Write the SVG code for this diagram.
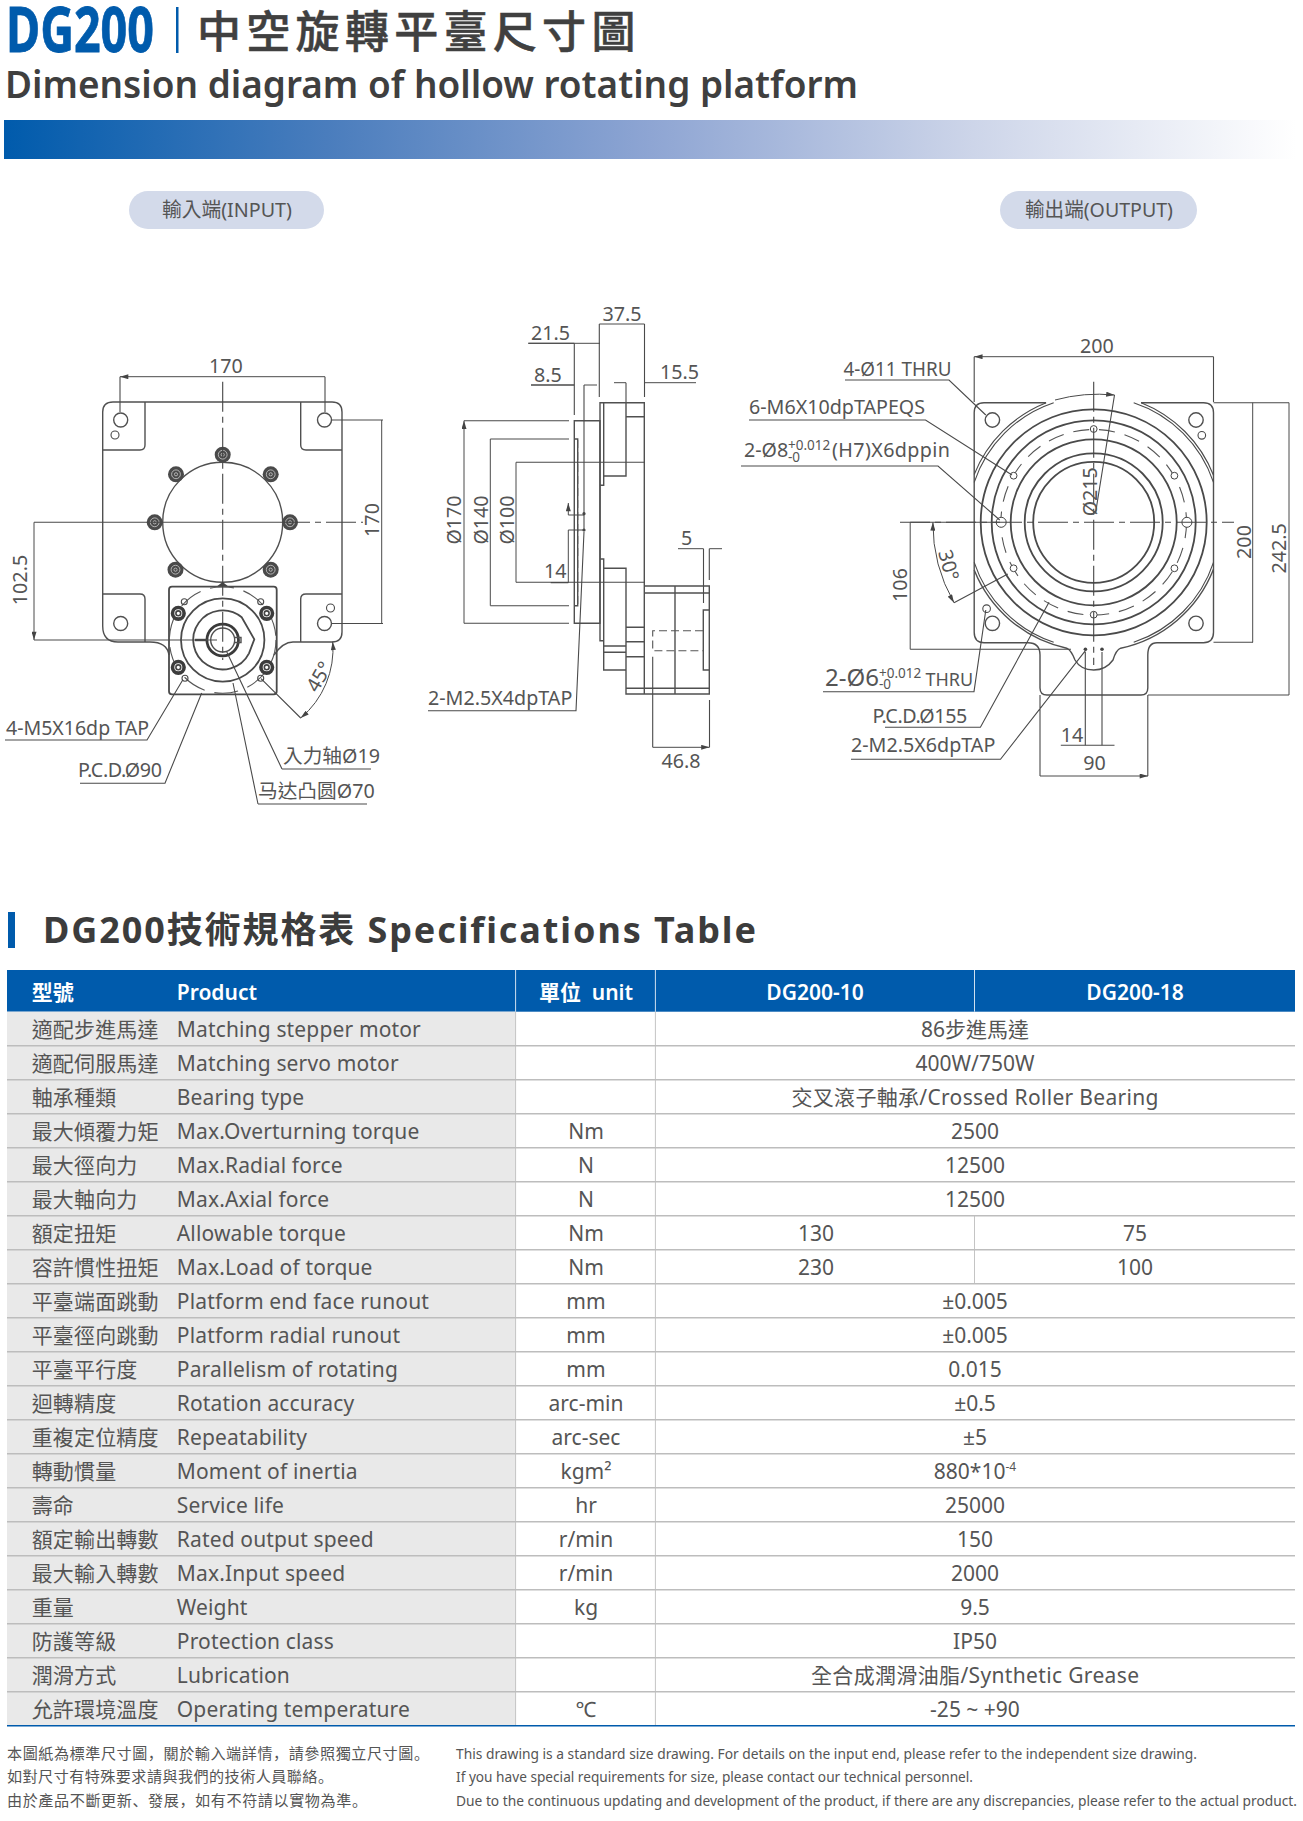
<svg xmlns="http://www.w3.org/2000/svg" width="1303" height="1821" viewBox="0 0 1303 1821">
<style>
text{font-family:"Noto Sans","Noto Sans CJK TC",sans-serif;fill:#4f4f4f}
.d{font-size:19.700px;fill:#555}
.l{fill:none;stroke:#4a4a4a;stroke-width:1.100}
.h{fill:none;stroke:#4a4a4a;stroke-width:1.800}
.m{fill:none;stroke:#505050;stroke-width:1.400}
.cl{fill:none;stroke:#444;stroke-width:1.100;stroke-dasharray:30 5 6 5}
.ds{fill:none;stroke:#555;stroke-width:1.100;stroke-dasharray:8 4}
.dim{fill:none;stroke:#4a4a4a;stroke-width:1;marker-start:url(#ar);marker-end:url(#ar)}
.dim1{fill:none;stroke:#4a4a4a;stroke-width:1;marker-end:url(#ar)}
.t{font-size:21px;fill:#555;letter-spacing:.15px}
.c{font-size:21px;fill:#555;text-anchor:middle}
.w{font-size:21px;fill:#fff;font-weight:600}
.wc{font-size:21px;fill:#fff;font-weight:600;text-anchor:middle}
.f{font-size:14.600px;fill:#555}
.fc{font-size:15.100px;fill:#555;font-family:"Noto Sans CJK SC",sans-serif}
.rl{stroke:#bdbdbd;stroke-width:1.500}
.vl{stroke:#c4c4c4;stroke-width:1}
</style>
<defs>
<marker id="ar" viewBox="0 0 10 6" refX="10" refY="3" markerWidth="10" markerHeight="5" markerUnits="userSpaceOnUse" orient="auto-start-reverse"><path d="M0 0L10 3L0 6Z" fill="#444"/></marker>
<linearGradient id="grad" x1="0" y1="0" x2="1" y2="0"><stop offset="0" stop-color="#005bac"/><stop offset=".25" stop-color="#4a7dbd"/><stop offset=".5" stop-color="#8ea5d3"/><stop offset=".75" stop-color="#cdd5e9"/><stop offset="1" stop-color="#ffffff"/></linearGradient>
<g id="bolt"><circle r="8" fill="#4a4a4a"/><circle r="4.400" fill="none" stroke="#ccc" stroke-width=".8"/><circle r="1.600" fill="none" stroke="#ccc" stroke-width=".8"/></g>
<g id="mbolt"><circle r="5.800" fill="#fff" stroke="#3c3c3c" stroke-width="3.600"/><circle r="2.400" fill="none" stroke="#444" stroke-width="1.600"/></g>
</defs>
<rect width="1303" height="1821" fill="#fff"/>

<g id="header">
<text x="6" y="52" font-size="62" font-weight="700" textLength="148" lengthAdjust="spacingAndGlyphs" stroke="#005bac" stroke-width=".8" style="fill:#005bac">DG200</text>
<rect x="176" y="7" width="2.500" height="46" fill="#005bac"/>
<text x="197" y="48" font-size="44" font-weight="500" letter-spacing="5.300" stroke="#404040" stroke-width=".5" style="fill:#404040;font-family:'Noto Sans CJK TC',sans-serif">中空旋轉平臺尺寸圖</text>
<text x="5" y="98" font-size="38" font-weight="600" textLength="853" lengthAdjust="spacingAndGlyphs" style="fill:#3f3f3f">Dimension diagram of hollow rotating platform</text>
<rect x="4" y="120" width="1292" height="39" fill="url(#grad)"/>
</g>
<g id="pill-input"><rect x="129" y="191" width="195" height="38" rx="19" fill="#d3daea"/><text x="162" y="216.500" font-size="20" textLength="130" lengthAdjust="spacingAndGlyphs" style="fill:#555">輸入端(INPUT)</text></g>
<g id="pill-output"><rect x="1000" y="191" width="197" height="38" rx="19" fill="#d3daea"/><text x="1025" y="216.500" font-size="20" textLength="148" lengthAdjust="spacingAndGlyphs" style="fill:#555">輸出端(OUTPUT)</text></g>

<g id="input-view">
<path class="m" d="M113 402H332Q342 402 342 412V632Q342 642 332 642H293Q283 642 274 655M102.700 412Q102.700 402 113 402M102.700 412V626Q102.700 642 118 642H150Q167 642 169 655"/>
<path class="m" d="M145 402V445Q145 450 140 450H102.700M300.700 402V445Q300.700 450 306 450H342M102.700 594H140Q145 594 145 599V642M342 594H306Q300.700 594 300.700 599V642"/>
<circle class="m" cx="120.700" cy="420" r="7"/><circle class="m" cx="324.500" cy="420" r="7"/><circle class="m" cx="120.700" cy="623.500" r="7"/><circle class="m" cx="324.500" cy="623.500" r="7"/>
<circle class="l" cx="115" cy="435" r="4"/><circle class="l" cx="330.500" cy="608" r="4"/>
<circle class="m" cx="222.700" cy="522.300" r="60"/>
<use href="#bolt" x="222.700" y="454.700"/><use href="#bolt" x="176" y="474.300"/><use href="#bolt" x="270.700" y="474.300"/><use href="#bolt" x="154.700" y="522.300"/><use href="#bolt" x="290" y="522.300"/><use href="#bolt" x="175.500" y="569.700"/><use href="#bolt" x="270.700" y="569.700"/>
<path d="M216 587L222.700 582L229 587Z" fill="#444"/>
<rect class="h" x="169" y="586.700" width="107.700" height="107.600" rx="3"/>
<circle class="ds" cx="222.700" cy="640" r="53.300" style="stroke-dasharray:24 10"/>
<circle class="h" cx="222.700" cy="640" r="41.700"/>
<path class="h" d="M241.700 617.300L254.300 639.300L249 653.300A29.500 29.500 0 1 1 241.700 617.300Z"/>
<circle cx="222.700" cy="640" r="15.800" fill="none" stroke="#3a3a3a" stroke-width="2.800"/><circle class="m" cx="222.700" cy="640" r="12"/>
<path class="m" d="M235 637.500H241V642.500H235"/>
<path stroke="#444" stroke-width="2.400" d="M195 640H208"/>
<use href="#mbolt" x="178.300" y="613.300"/><use href="#mbolt" x="266.700" y="613.300"/><use href="#mbolt" x="178.300" y="667.300"/><use href="#mbolt" x="266.700" y="667.300"/>
<circle class="l" cx="184.300" cy="601.700" r="3"/><circle class="l" cx="260.700" cy="601.700" r="3"/><circle class="l" cx="185" cy="678.300" r="3"/><circle class="l" cx="260.700" cy="678.300" r="3"/>
</g>
<g id="input-dimensions">
<path class="cl" d="M222.700 381.700V660M280 522.300H363"/>
<path class="l" d="M34 522.300H280M34 640H217M120 376.700V412M325 376.700V412M332 420H383M332 623.500H383"/>
<path class="dim" d="M120 376.700H325M381.700 420V623.500M34 522.300V640"/>
<text class="d" x="226" y="373" text-anchor="middle">170</text>
<text class="d" x="0" y="0" text-anchor="middle" transform="translate(379 520) rotate(-90)">170</text>
<text class="d" x="0" y="0" text-anchor="middle" transform="translate(27 580) rotate(-90)">102.5</text>
<path class="l" d="M261 678.700L300.700 718M5 740H147L182.700 680M80 783.300H165L201.700 693M282 769H371M282 769L226.700 651.700M258 804H367M258 804L233 683"/>
<path class="dim" d="M300.700 718A90 90 0 0 0 332.700 641.700"/>
<text class="d" x="0" y="0" text-anchor="middle" transform="translate(325 680) rotate(-60)">45°</text>
<text class="d" x="6" y="735" textLength="143" lengthAdjust="spacingAndGlyphs">4-M5X16dp TAP</text>
<text class="d" x="78" y="777" letter-spacing="-.4">P.C.D.Ø90</text>
<text class="d" x="283" y="763">入力轴Ø19</text>
<text class="d" x="258" y="798">马达凸圆Ø70</text>
</g>

<g id="side-view">
<path class="m" d="M574.300 420.700H600V623.300H574.300ZM574.300 439H577.700V605.700H574.300"/>
<path class="m" d="M600 402.700H644.300V694H626V670H603.700V559H600ZM603.700 402.700V485.300H600M603.700 476H626V402.700M626 416.700H644.300M600 559V640.700H603.700M603.700 568.300H626V670M603.700 646H626M603.700 652.300H626M626 627.300H644.300M626 641.700H644.300M626 656.700H644.300M626 688.300H709.300M644.300 694H709.300V586H644.300M644.300 593H709.300M675 586V694M703.300 610H709.300V670H703.300Z"/>
<path class="ds" d="M703 630.700H652.700V650.700H703M577.700 440V605"/>
</g>
<g id="side-dimensions">
<path class="l" d="M464 420.700H569M490.300 439H569M516 462.300H644.300M516 582.300H644.300M490.300 605.700H569M464 623.300H569M599.300 324V397M644.500 324V397M574.300 343.300V415M584 385V530M626 382.700V402M703.500 548.700V603M709.300 548.700V580M652.700 656.700V747.300M709.500 700V747.300M528.300 343.300H574.300M531 385H574.300M550.700 582.700H568.300M568.300 515H584M568.300 530H584M428 710.700H576L584 531.700"/>
<path class="dim" d="M464 420.700V623.300M490.300 439V605.700M516 462.300V582.300M599.300 324H644.500M652.700 747.300H709.500"/>
<path class="dim1" d="M528.300 343.300H574.300M600 343.300H574.300M531 385H574.300M597 385H584M614 382.700H626M696 382.700H644.500M678 548.700H703.500M722 548.700H709.300M568.300 582.700V530M568.300 515V503"/>
<circle cx="584" cy="513.700" r="1.600" fill="#444"/><circle cx="584" cy="530" r="1.600" fill="#444"/>
<text class="d" x="622" y="321" text-anchor="middle">37.5</text>
<text class="d" x="531" y="340">21.5</text>
<text class="d" x="534" y="381.500">8.5</text>
<text class="d" x="660" y="379">15.5</text>
<text class="d" x="544" y="578">14</text>
<text class="d" x="681" y="545">5</text>
<text class="d" x="681" y="768" text-anchor="middle">46.8</text>
<text class="d" x="0" y="0" text-anchor="middle" transform="translate(460.700 520) rotate(-90)">Ø170</text>
<text class="d" x="0" y="0" text-anchor="middle" transform="translate(487.700 520) rotate(-90)">Ø140</text>
<text class="d" x="0" y="0" text-anchor="middle" transform="translate(514.300 520) rotate(-90)">Ø100</text>
<text class="d" x="428" y="704.500">2-M2.5X4dpTAP</text>
</g>

<g id="output-view">
<path class="m" d="M1046 402.700H984Q974.200 402.700 974.200 412.700V632.300Q974.200 642.700 984 642.700H1028Q1040 642.700 1040 655V688Q1040 695 1047 695H1141Q1147.800 695 1147.800 688V655Q1147.800 642.700 1157 642.700H1203.500Q1213.500 642.700 1213.500 632.300V412.700Q1213.500 402.700 1203.500 402.700H1141"/>
<path class="l" d="M974.200 474.500A128.700 128.700 0 0 1 1046.200 402.700M1141.200 402.700A128.700 128.700 0 0 1 1213.500 475.300M974.200 482.300A126 126 0 0 1 1053.700 402.700M1133.700 402.700A126 126 0 0 1 1213.500 482.300M1213.500 562.300A126 126 0 0 1 1133.700 642.300M1053.700 642.300A126 126 0 0 1 974.200 562.300"/>
<path class="m" d="M1213.500 569.300A128.700 128.700 0 0 1 1120.700 648.200Q1116 650 1113 660C1108 667 1101 670 1093.700 670C1086 670 1079 667 1075 660Q1071 650 1066.700 648.200A128.700 128.700 0 0 1 974.200 570.100"/>
<circle class="h" cx="1093.700" cy="522.300" r="113"/>
<circle class="h" cx="1093.700" cy="522.300" r="102"/>
<circle class="ds" cx="1093.700" cy="522.300" r="92.800" style="stroke-dasharray:16 10"/>
<circle class="h" cx="1093.700" cy="522.300" r="83"/>
<circle class="h" cx="1093.700" cy="522.300" r="69"/>
<circle class="h" cx="1093.700" cy="522.300" r="60.500"/>
<circle class="m" cx="992.400" cy="420" r="7.200" fill="#fff"/><circle class="m" cx="1196" cy="420" r="7.200" fill="#fff"/><circle class="m" cx="992.400" cy="623.300" r="7.200" fill="#fff"/><circle class="m" cx="1196" cy="623.300" r="7.200" fill="#fff"/>
<circle class="l" cx="1201.800" cy="435.300" r="3.800"/><circle class="l" cx="986.600" cy="608.700" r="3.800"/>
<g fill="#fff" stroke="#444">
<circle cx="1093.700" cy="429" r="3.400"/><circle cx="1093.700" cy="614.700" r="3.400"/><circle cx="1013.600" cy="475.700" r="3.400"/><circle cx="1174.400" cy="475.700" r="3.400"/><circle cx="1013.600" cy="568.300" r="3.400"/><circle cx="1174.400" cy="568.300" r="3.400"/><circle cx="1001.200" cy="522.300" r="5"/><circle cx="1186.900" cy="522.300" r="5"/>
</g>
<circle cx="1085.400" cy="649.300" r="1.800" fill="#444"/><circle cx="1102" cy="649.300" r="1.800" fill="#444"/>
</g>
<g id="output-dimensions">
<path class="cl" d="M1093.700 381.700V665M900 522.300H1234"/>
<path class="l" d="M910.200 522.300H1000M910.200 649.300H1071M974.200 356.700V402M1213.500 356.700V402M1213.500 402.700H1289M1213.500 642.300H1253M1148 695H1289M1040 695V776M1147.800 695V776M1085.300 652V745.300M1102 652V745.300M1007.800 574L954 602.700M1114.500 395L1095.500 513.300M845 380H949L985.800 415M749 420H925.500L1012 475M741 466H938L999.700 520M823 691.700H974L985.800 610M885 727.300H980.400L1049 602.300M851 759.300H1000.500L1086.400 649.300"/>
<path class="dim" d="M974.200 356.700H1213.500M1252.700 402.700V642.300M1289 402.700V695M910.200 522.300V649.300M1040 776H1148"/>
<path class="l" d="M1060.800 745.300H1114.500"/>
<path class="dim1" d="M1055 400Q1084 392 1114.500 395"/>
<path class="dim" d="M932.900 522.300A160 160 0 0 0 954 602.700"/>
<text class="d" x="1097" y="353.300" text-anchor="middle">200</text>
<text class="d" x="0" y="0" text-anchor="middle" transform="translate(1251 542) rotate(-90)">200</text>
<text class="d" x="0" y="0" text-anchor="middle" transform="translate(1286 548.300) rotate(-90)">242.5</text>
<text class="d" x="0" y="0" text-anchor="middle" transform="translate(906.500 585) rotate(-90)">106</text>
<text class="d" x="0" y="0" text-anchor="middle" transform="translate(1096.600 491.700) rotate(-90)">Ø215</text>
<text class="d" x="0" y="0" text-anchor="middle" transform="translate(942 567) rotate(75)">30°</text>
<text class="d" x="843.500" y="376" textLength="108" lengthAdjust="spacingAndGlyphs">4-Ø11 THRU</text>
<text class="d" x="749" y="414.300" textLength="176" lengthAdjust="spacingAndGlyphs">6-M6X10dpTAPEQS</text>
<text class="d" x="744" y="457.300">2-Ø8</text><text x="788" y="450" font-size="13.500" style="fill:#555">+0.012</text><text x="788" y="462" font-size="13.500" style="fill:#555">-0</text><text class="d" x="832" y="457.300" textLength="118">(H7)X6dppin</text>
<text x="825" y="685.700" font-size="24" style="fill:#555">2-Ø6</text><text x="879" y="678" font-size="13.500" style="fill:#555">+0.012</text><text x="879" y="689" font-size="13.500" style="fill:#555">-0</text><text class="d" x="925.500" y="685.700" style="font-size:18px">THRU</text>
<text class="d" x="872.500" y="722.700" letter-spacing="-.4">P.C.D.Ø155</text>
<text class="d" x="851" y="752.300">2-M2.5X6dpTAP</text>
<text class="d" x="1060.800" y="741.700">14</text>
<text class="d" x="1094.400" y="770" text-anchor="middle">90</text>
</g>

<g id="spec-title">
<rect x="8" y="912" width="7" height="36" fill="#005bac"/>
<text x="43" y="943" font-size="36" font-weight="700" letter-spacing="1.900" style="fill:#3c3c3c">DG200技術規格表 Specifications Table</text>
</g>

<g id="spec-table">
<rect x="7" y="970" width="1288" height="41.700" fill="#005bac"/>
<rect x="7" y="1011.700" width="508.600" height="714" fill="#e9e9e9"/>
<path class="vl" d="M515.600 1011.700V1725.700M655.400 1011.700V1725.700M974.500 1215.700V1283.700"/>
<path stroke="#cfe0f0" stroke-width="1" d="M515.600 970V1011.700M655.400 970V1011.700M974.500 970V1011.700"/>
<path class="rl" d="M7 1045.700H1295M7 1079.700H1295M7 1113.700H1295M7 1147.700H1295M7 1181.700H1295M7 1215.700H1295M7 1249.700H1295M7 1283.700H1295M7 1317.700H1295M7 1351.700H1295M7 1385.700H1295M7 1419.700H1295M7 1453.700H1295M7 1487.700H1295M7 1521.700H1295M7 1555.700H1295M7 1589.700H1295M7 1623.700H1295M7 1657.700H1295M7 1691.700H1295"/>
<path stroke="#005bac" stroke-width="1.500" d="M7 1725.700H1295"/>
<g transform="translate(0 .8)">
<text class="w" x="31.700" y="999">型號</text><text class="w" x="176.800" y="999">Product</text><text class="wc" x="586" y="999" xml:space="preserve">單位  unit</text><text class="wc" x="815" y="999">DG200-10</text><text class="wc" x="1135" y="999">DG200-18</text>
<g id="r0"><text class="t" x="31.700" y="1036">適配步進馬達</text><text class="t" x="176.800" y="1036">Matching stepper motor</text><text class="c" x="975" y="1036">86步進馬達</text></g>
<g id="r1"><text class="t" x="31.700" y="1070">適配伺服馬達</text><text class="t" x="176.800" y="1070">Matching servo motor</text><text class="c" x="975" y="1070">400W/750W</text></g>
<g id="r2"><text class="t" x="31.700" y="1104">軸承種類</text><text class="t" x="176.800" y="1104">Bearing type</text><text class="c" x="975" y="1104" textLength="367">交叉滾子軸承/Crossed Roller Bearing</text></g>
<g id="r3"><text class="t" x="31.700" y="1138">最大傾覆力矩</text><text class="t" x="176.800" y="1138">Max.Overturning torque</text><text class="c" x="586" y="1138">Nm</text><text class="c" x="975" y="1138">2500</text></g>
<g id="r4"><text class="t" x="31.700" y="1172">最大徑向力</text><text class="t" x="176.800" y="1172">Max.Radial force</text><text class="c" x="586" y="1172">N</text><text class="c" x="975" y="1172">12500</text></g>
<g id="r5"><text class="t" x="31.700" y="1206">最大軸向力</text><text class="t" x="176.800" y="1206">Max.Axial force</text><text class="c" x="586" y="1206">N</text><text class="c" x="975" y="1206">12500</text></g>
<g id="r6"><text class="t" x="31.700" y="1240">額定扭矩</text><text class="t" x="176.800" y="1240">Allowable torque</text><text class="c" x="586" y="1240">Nm</text><text class="c" x="816" y="1240">130</text><text class="c" x="1135" y="1240">75</text></g>
<g id="r7"><text class="t" x="31.700" y="1274">容許慣性扭矩</text><text class="t" x="176.800" y="1274">Max.Load of torque</text><text class="c" x="586" y="1274">Nm</text><text class="c" x="816" y="1274">230</text><text class="c" x="1135" y="1274">100</text></g>
<g id="r8"><text class="t" x="31.700" y="1308">平臺端面跳動</text><text class="t" x="176.800" y="1308">Platform end face runout</text><text class="c" x="586" y="1308">mm</text><text class="c" x="975" y="1308">±0.005</text></g>
<g id="r9"><text class="t" x="31.700" y="1342">平臺徑向跳動</text><text class="t" x="176.800" y="1342">Platform radial runout</text><text class="c" x="586" y="1342">mm</text><text class="c" x="975" y="1342">±0.005</text></g>
<g id="r10"><text class="t" x="31.700" y="1376">平臺平行度</text><text class="t" x="176.800" y="1376">Parallelism of rotating</text><text class="c" x="586" y="1376">mm</text><text class="c" x="975" y="1376">0.015</text></g>
<g id="r11"><text class="t" x="31.700" y="1410">迴轉精度</text><text class="t" x="176.800" y="1410">Rotation accuracy</text><text class="c" x="586" y="1410">arc-min</text><text class="c" x="975" y="1410">±0.5</text></g>
<g id="r12"><text class="t" x="31.700" y="1444">重複定位精度</text><text class="t" x="176.800" y="1444">Repeatability</text><text class="c" x="586" y="1444">arc-sec</text><text class="c" x="975" y="1444">±5</text></g>
<g id="r13"><text class="t" x="31.700" y="1478">轉動慣量</text><text class="t" x="176.800" y="1478">Moment of inertia</text><text class="c" x="586" y="1478">kgm²</text><text class="c" x="975" y="1478">880*10<tspan font-size="12" dy="-8">-4</tspan></text></g>
<g id="r14"><text class="t" x="31.700" y="1512">壽命</text><text class="t" x="176.800" y="1512">Service life</text><text class="c" x="586" y="1512">hr</text><text class="c" x="975" y="1512">25000</text></g>
<g id="r15"><text class="t" x="31.700" y="1546">額定輸出轉數</text><text class="t" x="176.800" y="1546">Rated output speed</text><text class="c" x="586" y="1546">r/min</text><text class="c" x="975" y="1546">150</text></g>
<g id="r16"><text class="t" x="31.700" y="1580">最大輸入轉數</text><text class="t" x="176.800" y="1580">Max.Input speed</text><text class="c" x="586" y="1580">r/min</text><text class="c" x="975" y="1580">2000</text></g>
<g id="r17"><text class="t" x="31.700" y="1614">重量</text><text class="t" x="176.800" y="1614">Weight</text><text class="c" x="586" y="1614">kg</text><text class="c" x="975" y="1614">9.5</text></g>
<g id="r18"><text class="t" x="31.700" y="1648">防護等級</text><text class="t" x="176.800" y="1648">Protection class</text><text class="c" x="975" y="1648">IP50</text></g>
<g id="r19"><text class="t" x="31.700" y="1682">潤滑方式</text><text class="t" x="176.800" y="1682">Lubrication</text><text class="c" x="975" y="1682" textLength="328">全合成潤滑油脂/Synthetic Grease</text></g>
<g id="r20"><text class="t" x="31.700" y="1716">允許環境溫度</text><text class="t" x="176.800" y="1716">Operating temperature</text><text class="c" x="586" y="1716">℃</text><text class="c" x="975" y="1716">-25 ~ +90</text></g>
</g>
</g>

<g id="footnotes">
<text class="fc" x="7" y="1758.500" textLength="422">本圖紙為標準尺寸圖，關於輸入端詳情，請參照獨立尺寸圖。</text>
<text class="fc" x="7" y="1782" textLength="326">如對尺寸有特殊要求請與我們的技術人員聯絡。</text>
<text class="fc" x="7" y="1805.500" textLength="360">由於產品不斷更新、發展，如有不符請以實物為準。</text>
<text class="f" x="456" y="1758.500" textLength="741" lengthAdjust="spacingAndGlyphs">This drawing is a standard size drawing. For details on the input end, please refer to the independent size drawing.</text>
<text class="f" x="456" y="1782" textLength="517" lengthAdjust="spacingAndGlyphs">If you have special requirements for size, please contact our technical personnel.</text>
<text class="f" x="456" y="1805.500" textLength="841" lengthAdjust="spacingAndGlyphs">Due to the continuous updating and development of the product, if there are any discrepancies, please refer to the actual product.</text>
</g>
</svg>
